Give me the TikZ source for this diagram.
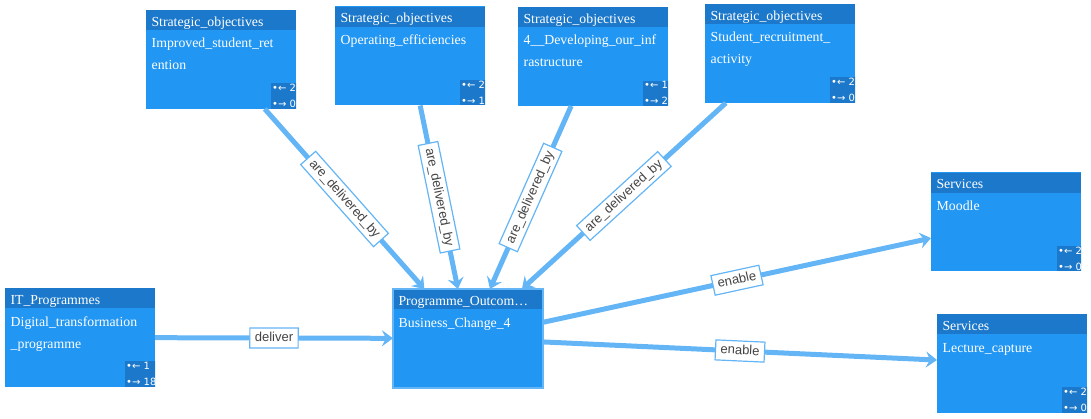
\documentclass[tikz,border=0pt]{standalone}
\usepackage{fontspec}
\setmainfont{Liberation Serif}
\setsansfont{Liberation Sans}
\newfontfamily\countfont{DejaVu Sans}
\usepackage{tikz}
\usetikzlibrary{arrows.meta,calc,positioning}
\definecolor{Cardblue}{RGB}{33,150,243}
\definecolor{Headblue}{RGB}{28,120,202}
\definecolor{Linkblue}{RGB}{100,181,246}
\definecolor{Labelgray}{RGB}{68,68,68}

\begin{document}
\begin{tikzpicture}[x=1pt,y=-1pt,
  card/.style={fill=Cardblue, minimum width=150pt, minimum height=99pt, inner sep=0pt, outer sep=0pt},
  cardhead/.style={fill=Headblue, text=white, anchor=north, minimum width=150pt, minimum height=20pt,
    inner xsep=5.5pt, inner ysep=0pt, text width=139pt, align=left, text height=12pt, text depth=0pt,
    font=\fontsize{13.8}{16}\selectfont},
  cardtext/.style={text=white, anchor=base west, inner sep=0pt, text width=139pt, align=left,
    font=\fontsize{13.8}{22}\selectfont},
  counter/.style={fill=Headblue, text=white, anchor=south west, inner xsep=1pt, inner ysep=1pt,
    align=left, font=\countfont\fontsize{10}{16}\selectfont},
  link/.style={draw=Linkblue, line width=5pt, -{Stealth[length=11pt,width=16pt,inset=4pt]}},
  linklabel/.style={midway, sloped, fill=white, draw=Linkblue, line width=1.2pt, text=Labelgray,
    inner xsep=5pt, inner ysep=4pt, text height=9.5pt, text depth=2.5pt,
    font=\sffamily\fontsize{13}{13}\selectfont}]
\useasboundingbox (0,0) rectangle (1091,419);
%
% strategic objectives
\node[card] (so1) at (221,59.5) {};
\node[cardhead] (so1h) at (so1.north) {Strategic\_objectives};
\node[cardtext] (so1t) at ([shift={(5.5,38)}]so1.north west) {Improved\_student\_ret\\ention};
\begin{scope}
\clip (so1.south west) rectangle (so1.north east);
\node[counter] (so1c) at ([xshift=-25pt]so1.south east) {•← 2\\•→ 0};
\end{scope}
%
\node[card] (so2) at (410,56) {};
\node[cardhead] (so2h) at (so2.north) {Strategic\_objectives};
\node[cardtext] (so2t) at ([shift={(5.5,38)}]so2.north west) {Operating\_efficiencies};
\begin{scope}
\clip (so2.south west) rectangle (so2.north east);
\node[counter] (so2c) at ([xshift=-25pt]so2.south east) {•← 2\\•→ 1};
\end{scope}
%
\node[card] (so3) at (593,56.5) {};
\node[cardhead] (so3h) at (so3.north) {Strategic\_objectives};
\node[cardtext] (so3t) at ([shift={(5.5,38)}]so3.north west) {4\_\_Developing\_our\_inf\\rastructure};
\begin{scope}
\clip (so3.south west) rectangle (so3.north east);
\node[counter] (so3c) at ([xshift=-25pt]so3.south east) {•← 1\\•→ 2};
\end{scope}
%
\node[card] (so4) at (780,53.5) {};
\node[cardhead] (so4h) at (so4.north) {Strategic\_objectives};
\node[cardtext] (so4t) at ([shift={(5.5,38)}]so4.north west) {Student\_recruitment\_\\activity};
\begin{scope}
\clip (so4.south west) rectangle (so4.north east);
\node[counter] (so4c) at ([xshift=-25pt]so4.south east) {•← 2\\•→ 0};
\end{scope}
%
% it programme
\node[card] (itp) at (80,337.5) {};
\node[cardhead] (itph) at (itp.north) {IT\_Programmes};
\node[cardtext] (itpt) at ([shift={(5.5,38)}]itp.north west) {Digital\_transformation\\\_programme};
\begin{scope}
\clip (itp.south west) rectangle (itp.north east);
\node[counter] (itpc) at ([xshift=-30pt]itp.south east) {•← 1\\•→ 18};
\end{scope}
%
% programme outcome
\node[card] (po) at (468,338.5) {};
\node[cardhead] (poh) at (po.north) {Programme\_Outcom…};
\node[cardtext] (pot) at ([shift={(5.5,38)}]po.north west) {Business\_Change\_4};
\draw[Linkblue, line width=1.5pt] (po.north west) rectangle (po.south east);
%
% services
\node[card] (svc1) at (1006,222) {};
\node[cardhead] (svc1h) at (svc1.north) {Services};
\node[cardtext] (svc1t) at ([shift={(5.5,38)}]svc1.north west) {Moodle};
\begin{scope}
\clip (svc1.south west) rectangle (svc1.north east);
\node[counter] (svc1c) at ([xshift=-24pt]svc1.south east) {•← 2\\•→ 0};
\end{scope}
%
\node[card] (svc2) at (1012,363.5) {};
\node[cardhead] (svc2h) at (svc2.north) {Services};
\node[cardtext] (svc2t) at ([shift={(5.5,38)}]svc2.north west) {Lecture\_capture};
\begin{scope}
\clip (svc2.south west) rectangle (svc2.north east);
\node[counter] (svc2c) at ([xshift=-25pt]svc2.south east) {•← 2\\•→ 0};
\end{scope}
%
% links
\draw[link] (so1) -- (po) node[linklabel] {are\_delivered\_by};
\draw[link] (so2) -- (po) node[linklabel] {are\_delivered\_by};
\draw[link] (so3) -- (po) node[linklabel] {are\_delivered\_by};
\draw[link] (so4) -- (po) node[linklabel] {are\_delivered\_by};
\draw[link] (itp) -- (po) node[linklabel] {deliver};
\draw[link] (po) -- (svc1) node[linklabel] {enable};
\draw[link] (po) -- (svc2) node[linklabel] {enable};
%
\end{tikzpicture}
\end{document}
